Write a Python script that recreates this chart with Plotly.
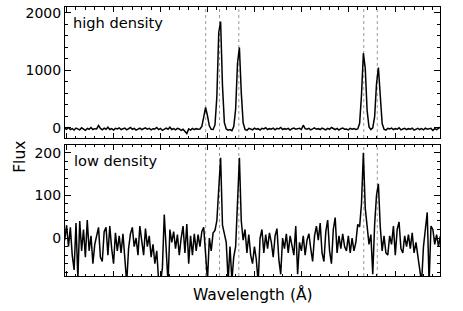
import plotly.graph_objects as go

# ---- data -------------------------------------------------------------
WAVE_START = 6398
WAVE_STEP = 2
N_POINTS = 201
wavelength = [WAVE_START + WAVE_STEP * i for i in range(N_POINTS)]

# rest wavelengths of the marked lines ([NII], Halpha, [NII], [SII], [SII])
line_wavelengths = [6548.1, 6562.8, 6583.4, 6716.4, 6730.8]

flux_high = [
    -10, -25, 5, -30, -15, -40, -5, -20, -35, 0,
    -20, -45, -10, -25, 5, -30, -15, -20, 40, -10,
    -35, -5, -25, 10, -30, -15, -40, -10, -20, 0,
    -30, -15, -5, -35, -20, 5, -25, -10, -40, -15,
    -5, -30, -20, 0, -25, -10, -35, -15, -20, 5,
    -30, -10, -45, -20, -5, -25, 10, -30, -15, -35,
    -10, -20, -45, -25, -60, -100, -20, -40, -10, -30,
    -15, -25, -20, 25, 185, 355, 210, 35, -25, -30,
    50, 540, 1660, 1850, 730, 90, -20, -40, -30, -50,
    20, 325, 1125, 1400, 610, 85, -30, -45, -10, -20,
    -35, -5, -25, -15, -40, -10, -20, 0, -30, -15,
    -25, -5, -35, -10, -20, 5, -30, -15, -25, -10,
    -40, -15, -5, -25, -20, -10, -30, 45, -15, -25,
    -10, -35, -20, 0, -25, -15, -30, -5, -20, -35,
    -10, -25, 5, -20, -30, -10, -40, -15, -5, -25,
    -20, -35, -10, -25, -15, -30, -20, 75, 565, 1300,
    1040, 300, 15, -30, 0, 195, 765, 1050, 505, 75,
    -25, -40, -10, -20, -5, -30, -15, -25, 0, -35,
    -20, -10, -30, -15, -25, -5, -40, -20, -10, -30,
    -15, -35, -5, -25, -20, -10, -45, -15, -30, -5,
    10,
]

flux_low = [
    -5, 30, -20, 25, -40, -75, 35, -95, 40, -30,
    20, -45, 42, -30, 5, -60, -15, 10, 25, -45,
    -55, 15, 25, -40, 28, -25, -60, 12, -30, 5,
    -35, 10, -60, -105, -25, 10, 25, -20, 0, -40,
    28, -10, -40, 22, -20, 5, -45, -15, -60, -30,
    -100, -105, -70, 55, -30, -105, 20, -10, 15, -25,
    8, -40, 0, 28, -35, 33, -60, 5, -40, 10,
    -30, 8, -20, 15, 25, -60, -100, 0, -30, 12,
    18, 41, 120, 188, 30, 5, -10, -100, -20, -100,
    -44, -20, 100, 188, 40, -5, 20, -35, 8, -40,
    -60, -20, -50, -105, 0, 20, -35, 8, -25, 12,
    -10, -45, 5, 22, -50, -85, 0, -25, 10, -35,
    5, -20, -40, 28, -85, -10, -30, 5, -40, -5,
    10, -25, -55, 5, 28, -5, 35, -35, -55, 15,
    42, -30, -60, 20, 48, -35, 5, -25, 10, -20,
    -30, 5, -35, 0, -30, -10, 32, 26, 80, 200,
    70, 28, -15, 8, -85, 32, 100, 127, 26, -30,
    5, -35, -40, 5, -15, 28, -40, 20, 38, -25,
    -35, 5, -20, 8, -25, 12, -35, -10, -45, -70,
    -105, -20, 15, 60, -105, 28, 20, -15, 8, -20,
    5,
]

panel_labels = ["high density", "low density"]
x_title = "Wavelength (Å)"
y_title = "Flux"

# ---- figure -----------------------------------------------------------
FONT = "DejaVu Sans"
fig = go.Figure()
line_style = dict(color="black", width=1.5)
fig.add_trace(go.Scatter(x=wavelength, y=flux_high, mode="lines", line=line_style,
                         xaxis="x", yaxis="y", showlegend=False, hoverinfo="skip"))
fig.add_trace(go.Scatter(x=wavelength, y=flux_low, mode="lines", line=line_style,
                         xaxis="x2", yaxis="y2", showlegend=False, hoverinfo="skip"))

xcommon = dict(
    range=[6398.3, 6797.6], showticklabels=False,
    ticks="inside", ticklen=5, tickcolor="black", tick0=6400, dtick=50,
    minor=dict(ticks="inside", ticklen=2.5, tickcolor="black", tick0=6400, dtick=10),
    showline=True, linecolor="black", linewidth=1, mirror="ticks",
    showgrid=False, zeroline=False,
)
ycommon = dict(
    ticks="inside", ticklen=6, tickcolor="black", tick0=0,
    showline=True, linecolor="black", linewidth=1, mirror="ticks",
    showgrid=False, zeroline=False,
    tickfont=dict(family=FONT, size=14, color="black"),
)

fig.update_layout(
    width=463, height=311,
    margin=dict(l=65, r=23, t=5, b=35),
    paper_bgcolor="white", plot_bgcolor="white",
    font=dict(family=FONT, color="black"),
    xaxis=dict(domain=[0, 1], anchor="y", **xcommon),
    xaxis2=dict(domain=[0, 1], anchor="y2", matches="x", **xcommon),
    yaxis=dict(domain=[0.5129, 1], anchor="x", range=[-178, 2104], dtick=1000,
               minor=dict(ticks="inside", ticklen=3, tickcolor="black", tick0=0, dtick=200),
               **ycommon),
    yaxis2=dict(domain=[0, 0.487], anchor="x2", range=[-89, 218], dtick=100,
                minor=dict(ticks="inside", ticklen=3, tickcolor="black", tick0=0, dtick=20),
                **ycommon),
)

shapes = []
for yref in ["y domain", "y2 domain"]:
    xref = "x" if yref.startswith("y ") else "x2"
    for w in line_wavelengths:
        shapes.append(dict(type="line", xref=xref, yref=yref, x0=w, x1=w, y0=0, y1=1,
                           line=dict(color="#9a9a9a", width=1, dash="dot"), layer="below"))
fig.update_layout(shapes=shapes)

annotations = [
    dict(text=panel_labels[0], xref="x domain", yref="y domain", x=0.016, y=0.879,
         xanchor="left", yanchor="middle", showarrow=False, font=dict(size=14.6)),
    dict(text=panel_labels[1], xref="x2 domain", yref="y2 domain", x=0.018, y=0.879,
         xanchor="left", yanchor="middle", showarrow=False, font=dict(size=14.6)),
    dict(text=x_title, xref="paper", yref="paper", x=0.5, y=-0.07,
         xanchor="center", yanchor="middle", showarrow=False, font=dict(size=15.5)),
    dict(text=y_title, xref="paper", yref="paper", x=-0.12, y=0.443, textangle=-90,
         xanchor="center", yanchor="middle", showarrow=False, font=dict(size=15.5)),
]
fig.update_layout(annotations=annotations)

fig.write_html("out.html", config={"displayModeBar": False},
               post_script="document.body.style.margin='0px';")
